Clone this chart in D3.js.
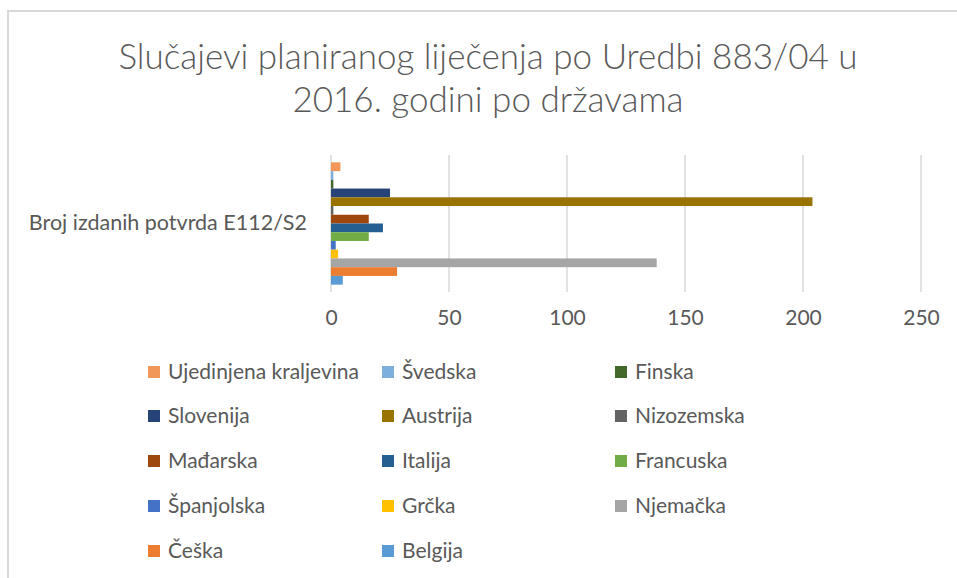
<html>
<head>
<meta charset="utf-8">
<script src="https://d3js.org/d3.v7.min.js"></script>
<style>
body { margin: 0; background: #fff; }
text { font-family: Lato, "Liberation Sans", sans-serif; fill: #595959; }
</style>
</head>
<body>
<svg id="chart" width="957" height="578"></svg>
<script>
// data, legend order (top bar first)
var countries = ["Ujedinjena kraljevina", "Švedska", "Finska", "Slovenija", "Austrija", "Nizozemska",
                 "Mađarska", "Italija", "Francuska", "Španjolska", "Grčka", "Njemačka", "Češka", "Belgija"];
var values = [4, 1, 1, 25, 204, 1, 16, 22, 16, 2, 3, 138, 28, 5];
var colors = ["#F1975A", "#7CAFDD", "#43682B", "#264478", "#997300", "#636363",
              "#9E480E", "#255E91", "#70AD47", "#4472C4", "#FFC000", "#A5A5A5", "#ED7D31", "#5B9BD5"];
var category = "Broj izdanih potvrda E112/S2";
var xTicks = [0, 50, 100, 150, 200, 250];
var titleLines = ["Slučajevi planiranog liječenja po Uredbi 883/04 u", "2016. godini po državama"];

var svg = d3.select("#chart");

// chart frame
svg.append("path")
  .attr("d", "M8,580 L8,11 L960,11")
  .attr("fill", "none")
  .attr("stroke", "#d9d9d9")
  .attr("stroke-width", 2);

// title
svg.selectAll("text.title")
  .data(titleLines)
  .enter().append("text")
  .attr("class", "title")
  .attr("x", 488)
  .attr("y", function(d, i) { return 69 + i * 43; })
  .attr("text-anchor", "middle")
  .style("font-size", "35px")
  .style("font-weight", 300)
  .text(function(d) { return d; });

var x = d3.scaleLinear().domain([0, 250]).range([331, 921]);
var yCat = d3.scaleBand().domain([category]).range([155, 292]).paddingInner(0).paddingOuter(0.06);
var ySer = d3.scaleBand().domain(countries).range([yCat(category), yCat(category) + yCat.bandwidth()]).padding(0);

// gridlines
svg.append("g")
  .selectAll("line")
  .data(xTicks)
  .enter().append("line")
  .attr("x1", function(d) { return x(d); })
  .attr("x2", function(d) { return x(d); })
  .attr("y1", 155)
  .attr("y2", 292)
  .attr("stroke", "#d9d9d9")
  .attr("stroke-width", 1.5);

// bars
svg.append("g")
  .selectAll("rect")
  .data(countries)
  .enter().append("rect")
  .attr("x", x(0))
  .attr("y", function(d) { return ySer(d); })
  .attr("width", function(d, i) { return x(values[i]) - x(0); })
  .attr("height", ySer.bandwidth())
  .attr("fill", function(d, i) { return colors[i]; });

// x axis labels
var xAxis = svg.append("g")
  .attr("transform", "translate(0,310)")
  .call(d3.axisBottom(x).tickValues(xTicks).tickSize(0).tickPadding(0));
xAxis.select(".domain").remove();
xAxis.selectAll("text")
  .attr("dy", "0.71em")
  .style("font-size", "21px")
  .style("font-family", "Lato, sans-serif")
  .attr("fill", "#595959");

// category label
svg.append("text")
  .attr("x", 307)
  .attr("y", 222)
  .attr("dy", "0.35em")
  .attr("text-anchor", "end")
  .style("font-size", "21.5px")
  .text(category);

// legend
var colX = [148, 382, 615];
var rowY = [372, 416, 461, 506, 551];
var leg = svg.append("g")
  .selectAll("g")
  .data(countries)
  .enter().append("g")
  .attr("transform", function(d, i) {
    return "translate(" + colX[i % 3] + "," + rowY[Math.floor(i / 3)] + ")";
  });
leg.append("rect")
  .attr("x", 0).attr("y", -6)
  .attr("width", 12).attr("height", 12)
  .attr("fill", function(d, i) { return colors[i]; });
leg.append("text")
  .attr("x", 20)
  .attr("dy", "0.35em")
  .style("font-size", "21px")
  .text(function(d) { return d; });
</script>
</body>
</html>
